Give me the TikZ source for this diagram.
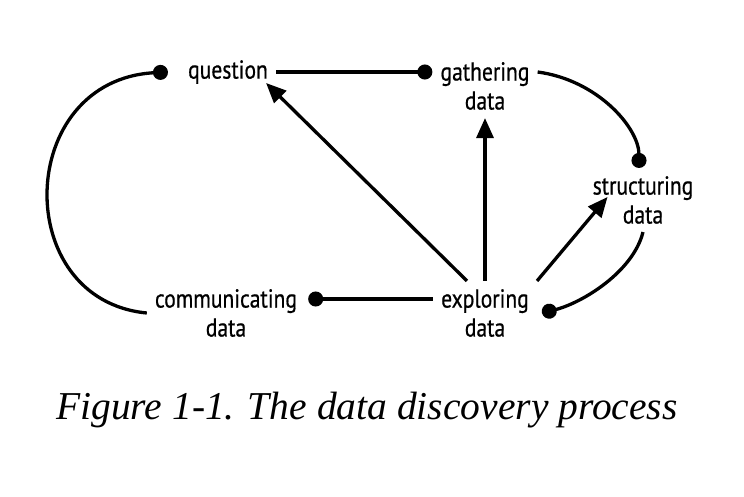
\documentclass[tikz,border=0pt]{standalone}
\usepackage{fontspec}
\setmainfont{Liberation Serif}
\newfontfamily\stagefont[FakeStretch=0.83,FakeBold=0.6]{PT Sans}
\usetikzlibrary{arrows.meta,positioning}

\begin{document}
\begin{tikzpicture}[
    x=1pt, y=-1pt,
    stage/.style={font=\stagefont\fontsize{26}{29}\selectfont, align=center, inner sep=8pt},
    line/.style={draw, line width=3.3pt, -{Triangle[length=20pt,width=17pt]}},
    dotline/.style={draw, line width=3.3pt, -{Circle[length=15pt]}}
]
    \useasboundingbox (0,0) rectangle (744,497);
    \node [stage] (question) at (228,72) {question};
    \node [stage] (gather) at (485,86) {gathering\\data};
    \node [stage] (struct) at (643,200) {structuring\\data};
    \node [stage] (explore) at (485,313) {exploring\\data};
    \node [stage] (comm) at (226,313) {communicating\\data};
    \node [font=\itshape\fontsize{39.5}{42}\selectfont] (caption) at (367,410) {Figure 1-1. The data discovery process};

    % the cycle
    \path [dotline] (question.east) -- (question.east -| gather.west);
    \path [dotline] ([yshift=14pt]gather.east) .. controls +(60,8) and +(0,-40) .. ([xshift=-4pt]struct.north);
    \path [dotline] (struct.south) .. controls +(-10,40) and +(40,-10) .. ([xshift=5pt]explore.east);
    \path [dotline] ([yshift=14pt]explore.west) -- ([yshift=14pt,xshift=3pt]comm.east);
    \path [dotline] (comm.west) .. controls (10,300) and (15,80) .. ([xshift=-12pt]question.west);

    % out of exploring
    \path [line] ([xshift=-18pt]explore.north) -- ([xshift=-10pt,yshift=9pt]question.south east);
    \path [line] (explore.north) -- (gather.south);
    \path [line] (explore.north east) -- ([xshift=23pt,yshift=3pt]struct.west);
\end{tikzpicture}
\end{document}
